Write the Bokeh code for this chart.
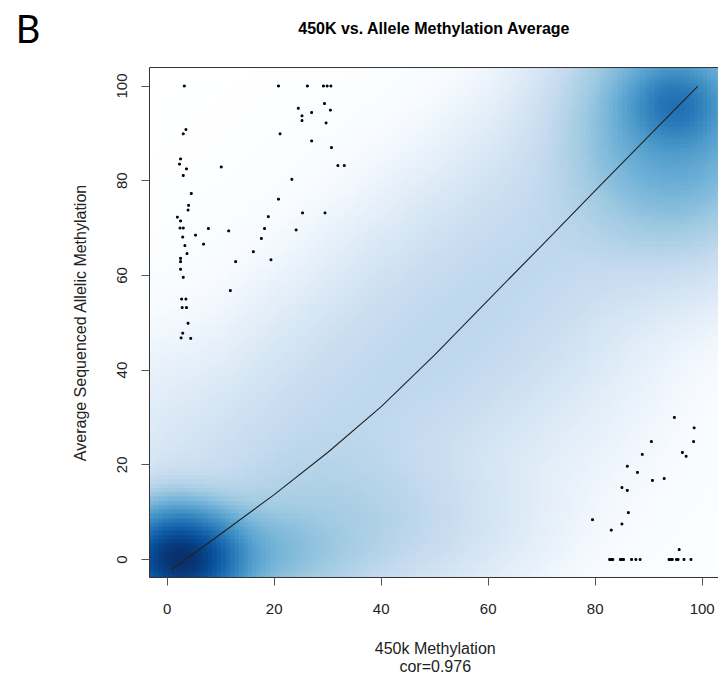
import numpy as np
from bokeh.plotting import figure
from bokeh.models import LinearColorMapper, Label, FixedTicker
from bokeh.embed import file_html
from bokeh.resources import INLINE

# ---- outlying points (drawn individually, as in smoothScatter) ----
pts_x = [3.2, 20.8, 26.2, 29.2, 29.9, 30.6,
         29.4, 24.5, 30.5, 27.0, 25.2, 25.2, 29.7,
         3.5, 3.0, 21.1, 27.0, 30.7,
         2.5, 2.3, 3.6, 10.1, 31.9, 33.1, 3.0, 23.3,
         4.5, 20.8, 4.0, 3.9, 25.3, 29.5, 1.9, 2.5, 18.9,
         2.4, 3.0, 7.7, 11.5, 18.2, 24.1, 2.9, 5.3, 17.6,
         3.3, 6.8, 3.7, 16.1, 2.5, 2.5, 12.8, 19.4, 2.5, 3.0,
         11.8, 2.7, 3.5, 2.8, 3.6, 3.9, 2.9, 2.6, 4.4,
         94.8, 98.5, 90.5, 98.4, 88.8, 96.3, 97.0, 86.0, 87.9, 92.9, 90.7,
         85.0, 86.0, 86.2, 79.5, 85.0, 83.0, 95.7,
         82.7, 83.0, 83.3, 84.7, 85.0, 85.3, 86.8, 87.6, 88.4,
         93.8, 94.1, 94.4, 95.2, 95.5, 96.6, 97.9]
pts_y = [100, 100, 100, 100, 100, 100,
         96.3, 95.3, 94.9, 94.4, 93.7, 92.7, 92.2,
         90.8, 89.9, 89.9, 88.4, 87.0,
         84.6, 83.5, 82.5, 82.9, 83.2, 83.2, 81.1, 80.3,
         77.3, 76.1, 74.8, 73.8, 73.2, 73.2, 72.3, 71.5, 72.4,
         70.0, 70.0, 69.9, 69.4, 69.9, 69.6, 68.1, 68.5, 67.8,
         66.3, 66.6, 64.6, 65.0, 63.6, 62.9, 62.9, 63.3, 61.3, 59.6,
         56.8, 55.0, 55.0, 53.2, 53.2, 49.9, 47.8, 46.8, 46.7,
         30.0, 27.8, 24.9, 24.9, 22.2, 22.6, 21.8, 19.7, 18.4, 17.1, 16.7,
         15.2, 14.6, 9.9, 8.4, 7.5, 6.2, 2.1,
         0, 0, 0, 0, 0, 0, 0, 0, 0,
         0, 0, 0, 0, 0, 0, 0]

# ---- fitted curve ----
fit_x = [0.9, 10, 20, 30, 40, 50, 60, 70, 80, 90, 99.2]
fit_y = [-2.1, 5.4, 13.7, 22.6, 32.3, 43.2, 54.8, 66.3, 77.9, 89.4, 100]

# ---- density kernels (centre x, centre y, spread x, spread y, weight) ----
kern_cx = [2.5, 12, 0, 35, 17, 27, 37, 47, 57, 67, 77, 87, 95, 95, 0, 60]
kern_cy = [0, 1, 6, 8, 13, 23, 33, 43, 53, 63, 73, 83, 96, 92, 25, 40]
kern_sx = [6.0, 12, 4, 15, 12.5, 12.5, 12.5, 12.5, 12.5, 12.5, 12.5, 12.5, 5, 10, 6, 16]
kern_sy = [5.3, 6, 6, 9, 12.5, 12.5, 12.5, 12.5, 12.5, 12.5, 12.5, 12.5, 5, 13, 12, 16]
kern_w = [1.0, 0.08, 0.03, 0.02, 0.007, 0.007, 0.007, 0.007, 0.007,
          0.007, 0.007, 0.007, 0.25, 0.15, 0.0015, 0.003]

tick_vals = [0, 20, 40, 60, 80, 100]

blues9 = ["#F7FBFF", "#DEEBF7", "#C6DBEF", "#9ECAE1", "#6BAED6",
          "#4292C6", "#2171B5", "#08519C", "#08306B"]

title_text = "450K vs. Allele Methylation Average"
panel_text = "B"
xlab_text = "450k Methylation"
cor_text = "cor=0.976"
ylab_text = "Average Sequenced Allelic Methylation"

# plotting box (data units) and whole canvas (data units)
x0, x1 = -3.31, 103.3
y0, y1 = -3.80, 103.9
cx0, cx1 = -31.16, 103.05
cy0, cy1 = -24.71, 118.06
W, H = 718, 676

# density on a grid
nx, ny = 128, 120
gx = np.linspace(x0, x1, nx + 1)
gy = np.linspace(y0, y1, ny + 1)
gcx = (gx[:-1] + gx[1:]) / 2
gcy = (gy[:-1] + gy[1:]) / 2
XX, YY = np.meshgrid(gcx, gcy)
dens = np.zeros_like(XX)
for kx, ky, sx, sy, w in zip(kern_cx, kern_cy, kern_sx, kern_sy, kern_w):
    dens += w * np.exp(-((XX - kx) ** 2) / (2 * sx ** 2) - ((YY - ky) ** 2) / (2 * sy ** 2))
dens = dens / dens.max()
z = dens ** 0.25

# colour ramp white -> blues9 (256 levels)
anchors = ["#FFFFFF"] + blues9
rgb = np.array([[int(c[i:i + 2], 16) for i in (1, 3, 5)] for c in anchors], dtype=float)
pos = np.linspace(0, 1, len(anchors))
lev = np.linspace(0, 1, 256)
ramp = np.stack([np.interp(lev, pos, rgb[:, k]) for k in range(3)], axis=1)
palette = ["#%02x%02x%02x" % tuple(int(round(v)) for v in row) for row in ramp]
mapper = LinearColorMapper(palette=palette, low=0, high=1)

p = figure(width=W, height=H, output_backend="svg", toolbar_location=None,
           x_range=(cx0, cx1), y_range=(cy0, cy1), min_border=0,
           min_border_left=0, min_border_right=0, min_border_top=0, min_border_bottom=0)
p.background_fill_color = "white"
p.border_fill_color = "white"
p.grid.visible = False
p.outline_line_color = None

p.image(image=[z], x=x0, y=y0, dw=x1 - x0, dh=y1 - y0, color_mapper=mapper)
p.quad(left=[x0], right=[x1], bottom=[y0], top=[y1], fill_color=None,
       line_color="#333333", line_width=1)
p.line(fit_x, fit_y, line_color="#222222", line_width=1.1)
p.scatter(pts_x, pts_y, marker="square", size=1.8, color="black")

p.xaxis.fixed_location = y0
p.yaxis.fixed_location = x0
for ax in (p.xaxis[0], p.yaxis[0]):
    ax.ticker = FixedTicker(ticks=tick_vals)
    ax.axis_line_color = None
    ax.major_tick_line_color = "#555555"
    ax.major_tick_out = 8
    ax.major_tick_in = 0
    ax.minor_tick_line_color = None
    ax.major_label_text_font = "Liberation Sans"
    ax.major_label_text_font_size = "15px"
    ax.major_label_text_color = "#222222"
p.xaxis.major_label_standoff = 19
p.yaxis.major_label_standoff = 14
p.yaxis.major_label_orientation = "vertical"

p.add_layout(Label(x=-28.3, y=112.3, text=panel_text,
                   text_font="'Liberation Sans Narrow', Lato", text_font_size="38px",
                   text_color="black", text_align="left", text_baseline="middle"))
p.add_layout(Label(x=49.96, y=112.14, text=title_text,
                   text_font="Liberation Sans", text_font_style="bold",
                   text_font_size="16px", text_color="black",
                   text_align="center", text_baseline="middle"))
p.add_layout(Label(x=50.1, y=-18.8, text=xlab_text, text_font="Liberation Sans",
                   text_font_size="16px", text_color="#222222",
                   text_align="center", text_baseline="middle"))
p.add_layout(Label(x=50.1, y=-22.6, text=cor_text, text_font="Liberation Sans",
                   text_font_size="16px", text_color="#222222",
                   text_align="center", text_baseline="middle"))
p.add_layout(Label(x=-16.2, y=50.05, text=ylab_text,
                   text_font="Liberation Sans", text_font_size="16px",
                   text_color="#222222", angle=np.pi / 2,
                   text_align="center", text_baseline="middle"))

open("out.html", "w").write(file_html(p, INLINE))
